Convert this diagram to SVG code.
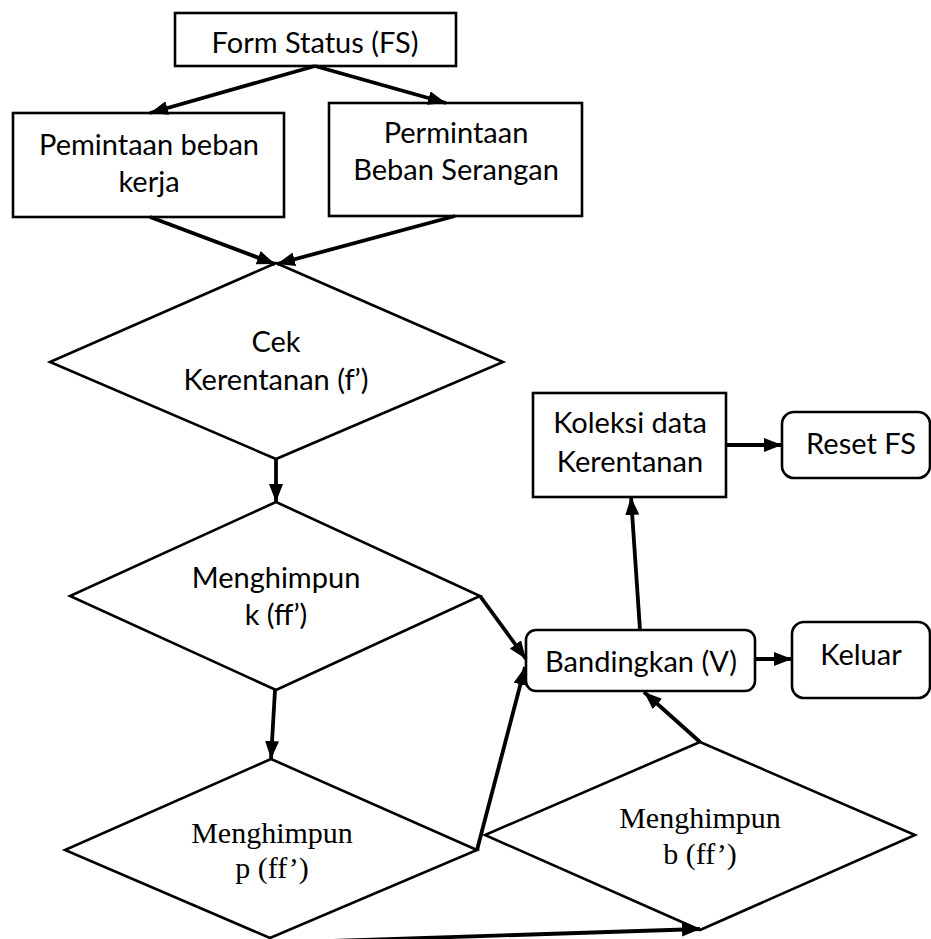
<svg xmlns="http://www.w3.org/2000/svg" width="931" height="939" viewBox="0 0 931 939">
<defs>
<marker id="ah" markerUnits="userSpaceOnUse" markerWidth="19" markerHeight="14" refX="18" refY="7" orient="auto">
<path d="M0,0 L18,7 L0,14 z" fill="#000"/>
</marker>
<style>
.box{fill:#fff;stroke:#000;stroke-width:2.6}
.t{font-family:Lato,"Open Sans","Liberation Sans",sans-serif;font-size:29px;fill:#000;text-anchor:middle}
.s{font-family:"Liberation Serif","Times New Roman",serif;font-size:30px;fill:#000;text-anchor:middle}
.c{fill:none;stroke:#000;stroke-width:3.8;marker-end:url(#ah)}
</style>
</defs>
<rect width="931" height="939" fill="#fff"/>
<g id="fs"><rect class="box" x="175" y="13" width="281" height="53"/><text class="t" x="315" y="53">Form Status (FS)</text></g>
<g id="beban-kerja"><rect class="box" x="13" y="113" width="271" height="104"/><text class="t" x="149" y="155">Pemintaan beban</text><text class="t" x="149" y="192">kerja</text></g>
<g id="beban-serangan"><rect class="box" x="329" y="103" width="253" height="113"/><text class="t" x="456" y="143">Permintaan</text><text class="t" x="456" y="180">Beban Serangan</text></g>
<g id="cek"><polygon class="box" points="276,263 503,362 276,459 50,362"/><text class="t" x="276" y="352">Cek</text><text class="t" x="276" y="390">Kerentanan (f’)</text></g>
<g id="k"><polygon class="box" points="276,502 480,596 276,690 70,596"/><text class="t" x="276" y="588">Menghimpun</text><text class="t" x="276" y="625">k (ff’)</text></g>
<g id="p"><polygon class="box" points="271,759 477,850 270,938 65,850"/><text class="s" x="272" y="843">Menghimpun</text><text class="s" x="272" y="878">p (ff’)</text></g>
<g id="b"><polygon class="box" points="700,742 915,835 700,930 485,835"/><text class="s" x="700" y="828">Menghimpun</text><text class="s" x="700" y="864">b (ff’)</text></g>
<g id="bandingkan"><rect class="box" x="526" y="630" width="229" height="61" rx="10"/><text class="t" x="641" y="672">Bandingkan (V)</text></g>
<g id="koleksi"><rect class="box" x="533" y="393" width="193" height="104"/><text class="t" x="630" y="433">Koleksi data</text><text class="t" x="630" y="472">Kerentanan</text></g>
<g id="reset"><rect class="box" x="782" y="412" width="148" height="66" rx="12"/><text class="t" x="861" y="454">Reset FS</text></g>
<g id="keluar"><rect class="box" x="792" y="622" width="138" height="76" rx="12"/><text class="t" x="861" y="665">Keluar</text></g>
<g id="connectors">
<line class="c" x1="315" y1="66" x2="150" y2="113"/>
<line class="c" x1="315" y1="66" x2="446" y2="103"/>
<line class="c" x1="150" y1="217" x2="275" y2="264"/>
<line class="c" x1="455" y1="216" x2="277" y2="264"/>
<line class="c" x1="276" y1="459" x2="276" y2="502"/>
<line class="c" x1="480" y1="596" x2="526" y2="659"/>
<line class="c" x1="275" y1="690" x2="271" y2="759"/>
<line class="c" x1="477" y1="850" x2="525" y2="667"/>
<line class="c" x1="640" y1="630" x2="631" y2="497"/>
<line class="c" x1="727" y1="445" x2="782" y2="445"/>
<line class="c" x1="756" y1="659" x2="792" y2="659"/>
<line class="c" x1="700" y1="742" x2="644" y2="692"/>
<line class="c" x1="330" y1="941" x2="700" y2="929"/>
</g>
</svg>
